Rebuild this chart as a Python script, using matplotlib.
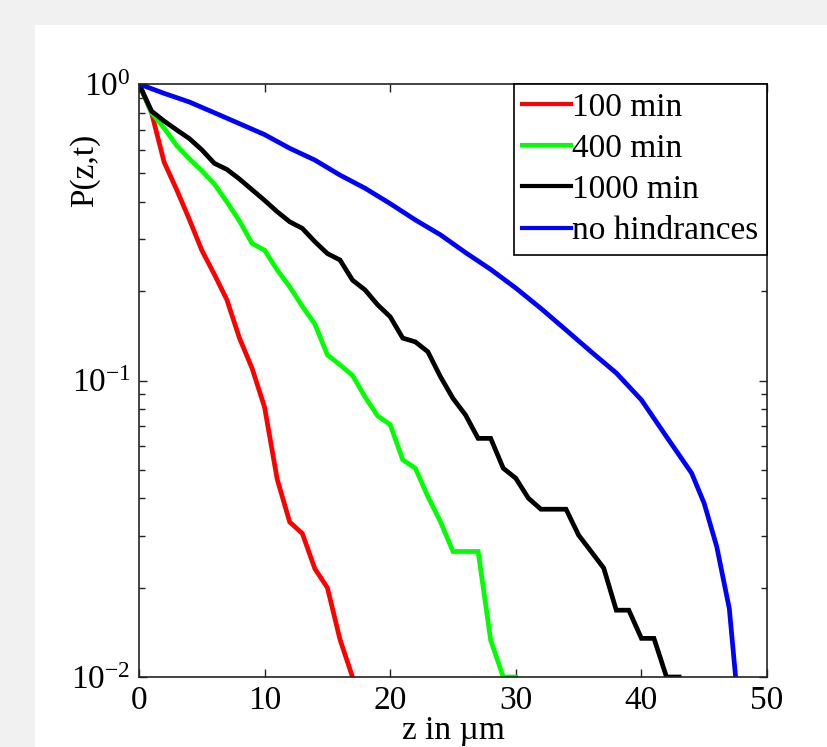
import numpy as np
import matplotlib
matplotlib.use("Agg")
import matplotlib.pyplot as plt
from matplotlib.patches import Rectangle
from matplotlib.ticker import LogLocator, FixedLocator, NullFormatter

plt.rcParams['font.family'] = ['Liberation Serif', 'DejaVu Serif']
plt.rcParams['mathtext.fontset'] = 'custom'
plt.rcParams['mathtext.rm'] = 'Liberation Serif'
plt.rcParams['mathtext.it'] = 'Liberation Serif'
plt.rcParams['mathtext.default'] = 'regular'

# ---- data ----
z_100 = [0, 1, 2, 3, 4, 5, 6, 7, 8, 9, 10, 11, 12, 13, 14, 15, 16, 17]
p_100 = [1.0, 0.80, 0.545, 0.44, 0.35, 0.275, 0.228, 0.187, 0.139, 0.110, 0.0812,
         0.0465, 0.0333, 0.0305, 0.0232, 0.0200, 0.0134, 0.0100]

z_400 = list(range(0, 31))
p_400 = [1.0, 0.80, 0.71, 0.62, 0.56, 0.51, 0.46, 0.40, 0.345, 0.29, 0.275,
         0.236, 0.207, 0.178, 0.155, 0.122, 0.113, 0.104, 0.088, 0.076, 0.071,
         0.054, 0.0506, 0.0406, 0.0334, 0.0265, 0.0265, 0.0265, 0.0133, 0.0100, 0.0100]

z_1000 = list(range(0, 44))
p_1000 = [1.0, 0.81, 0.75, 0.70, 0.655, 0.60, 0.54, 0.515, 0.478, 0.44, 0.405,
          0.371, 0.343, 0.326, 0.294, 0.268, 0.255, 0.218, 0.202, 0.180, 0.164,
          0.139, 0.135, 0.125, 0.103, 0.087, 0.0765, 0.0638, 0.0638, 0.0506, 0.0468,
          0.0401, 0.0368, 0.0368, 0.0368, 0.0301, 0.0265, 0.0233, 0.0168, 0.0168,
          0.0135, 0.0135, 0.0100, 0.0100]

z_free = [0, 2, 4, 6, 8, 10, 12, 14, 16, 18, 20, 22, 24, 26, 28, 30, 32, 34, 36,
          38, 40, 42, 44, 45, 46, 47, 47.5]
p_free = [1.0, 0.93, 0.87, 0.80, 0.735, 0.675, 0.607, 0.554, 0.493, 0.445, 0.395,
          0.348, 0.31, 0.27, 0.237, 0.205, 0.175, 0.148, 0.125, 0.106, 0.086,
          0.0646, 0.0487, 0.0385, 0.0275, 0.017, 0.0100]

labels = ['100 min', '400 min', '1000 min', 'no hindrances']
colors = ['#ff0000', '#00ff00', '#000000', '#0000ff']
x_ticks = [0, 10, 20, 30, 40, 50]

# ---- figure ----
W, H = 827, 747
fig = plt.figure(figsize=(W / 100, H / 100), dpi=100, facecolor='#f1f1f1')
fig.patches.append(Rectangle((35 / W, 0), 1 - 35 / W, 1 - 25 / H,
                             transform=fig.transFigure, facecolor='white',
                             edgecolor='none', zorder=-10))

ax = fig.add_axes([139 / W, 1 - 677 / H, 628 / W, 593 / H])
ax.set_facecolor('white')

for zz, pp, c, lab in zip([z_100, z_400, z_1000, z_free],
                          [p_100, p_400, p_1000, p_free], colors, labels):
    ax.plot(zz, pp, color=c, lw=3.4, label=lab, solid_joinstyle='miter')

ax.set_yscale('log')
ax.set_xlim(0, 50)
ax.set_ylim(1e-2, 1e0)
ax.xaxis.set_major_locator(FixedLocator(x_ticks))
ax.yaxis.set_major_locator(LogLocator(base=10, numticks=10))
ax.yaxis.set_minor_locator(LogLocator(base=10, subs=np.arange(2, 10), numticks=10))
ax.yaxis.set_minor_formatter(NullFormatter())

ax.tick_params(which='both', direction='in', top=True, right=True,
               labelsize=24, width=1, color='#222222')
ax.tick_params(which='major', length=6, pad=6)
ax.tick_params(which='minor', length=4)
for s in ax.spines.values():
    s.set_linewidth(1.2)
    s.set_color('#222222')

ax.set_xlabel('z in µm', fontsize=24, labelpad=0)
ax.set_ylabel('P(z,t)', fontsize=24)
ax.yaxis.set_label_coords(-0.062, 0.855)

leg = ax.legend(loc='upper right', fontsize=24, fancybox=False, framealpha=1,
                edgecolor='black', borderaxespad=0, borderpad=0.25,
                labelspacing=0.32, handlelength=1.45, handletextpad=0.05)
leg.get_frame().set_linewidth(1.2)
for h in leg.get_lines():
    h.set_linewidth(3)

fig.savefig('out.png', dpi=100, facecolor=fig.get_facecolor())
